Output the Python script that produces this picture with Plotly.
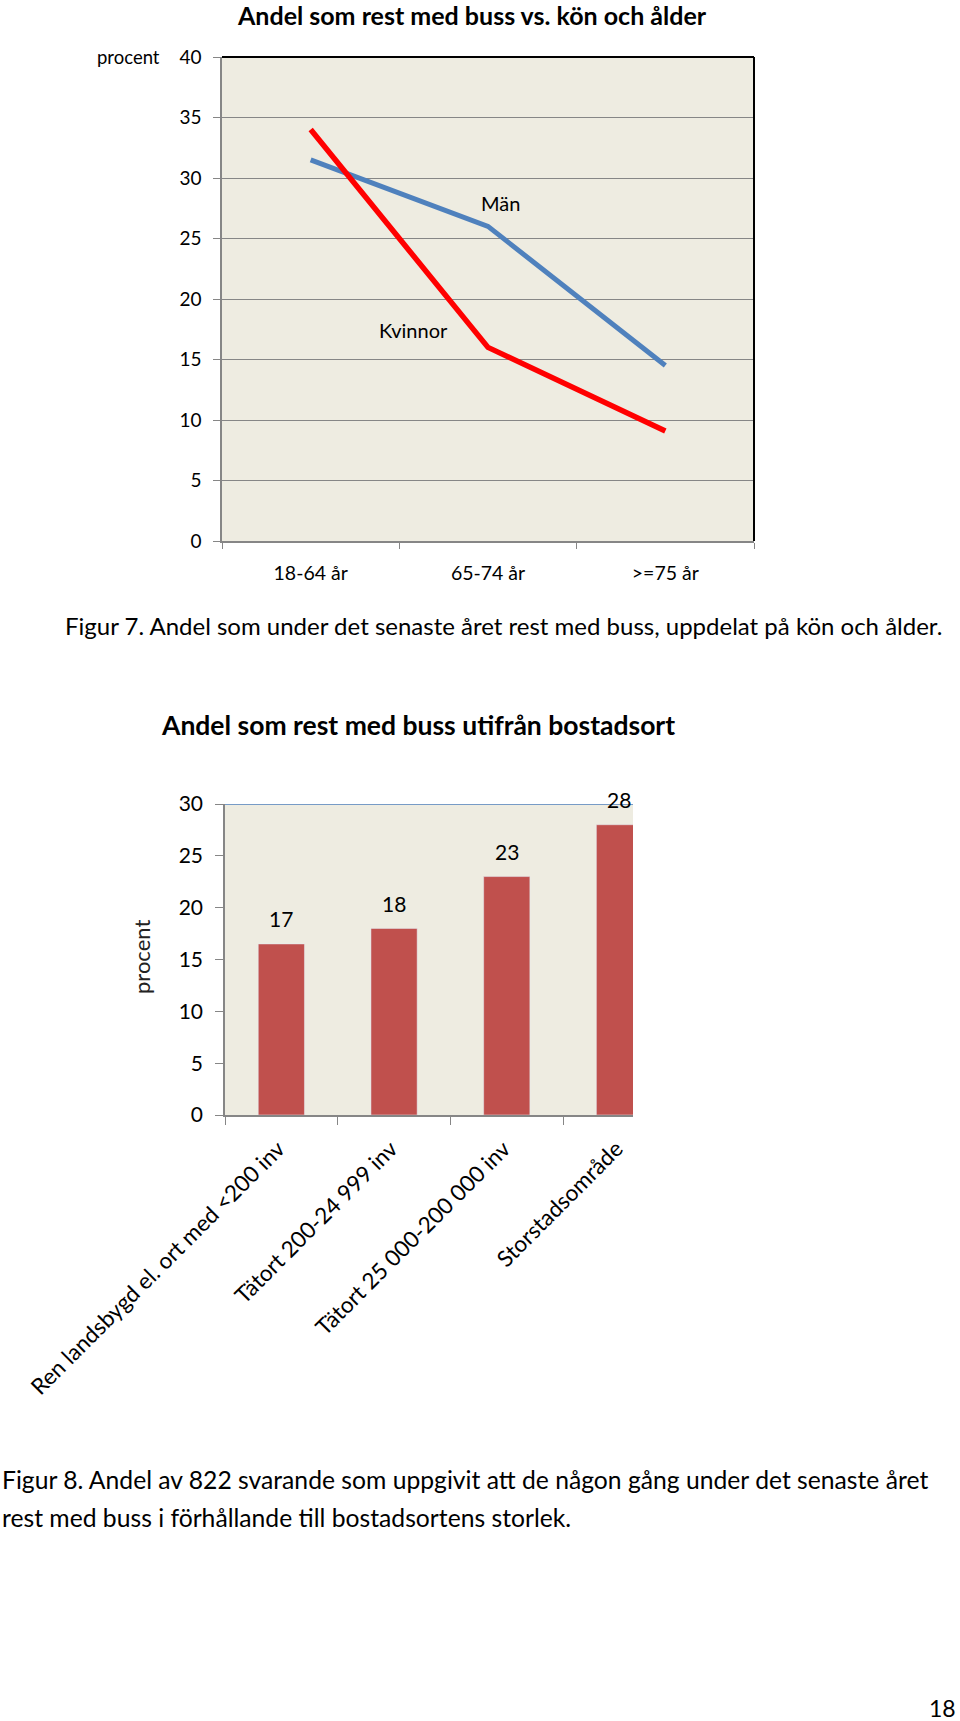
import plotly.graph_objects as go

W, H = 960, 1721

# ---- data: chart 1 (line chart) ----
age_groups = ["18-64 år", "65-74 år", ">=75 år"]
men = [31.5, 26.0, 14.5]
women = [34.0, 16.0, 9.1]
line_tickvals = [0, 5, 10, 15, 20, 25, 30, 35, 40]

# ---- data: chart 2 (bar chart) ----
areas = ["Ren landsbygd el. ort med <200 inv", "Tätort 200-24 999 inv",
         "Tätort 25 000-200 000 inv", "Storstadsområde"]
share = [16.5, 18.0, 23.0, 28.0]
share_labels = ["17", "18", "23", "28"]
bar_tickvals = [0, 5, 10, 15, 20, 25, 30]

FONT = "Lato"
GRAY = "#868686"


def py(px):
    return 1 - px / H


def pxx(px):
    return px / W


fig = go.Figure()
fig.add_trace(go.Scatter(x=age_groups, y=men, mode="lines", name="Män",
                         line=dict(color="#4F81BD", width=5),
                         xaxis="x", yaxis="y", showlegend=False))
fig.add_trace(go.Scatter(x=age_groups, y=women, mode="lines", name="Kvinnor",
                         line=dict(color="#FF0000", width=5.5),
                         xaxis="x", yaxis="y", showlegend=False))
fig.add_trace(go.Bar(x=areas, y=share, marker_color="#C0504D", width=0.41,
                     xaxis="x2", yaxis="y2", showlegend=False))

annotations = []
# data labels for bars
for a, v, t in zip(areas, share, share_labels):
    annotations.append(dict(x=a, y=v, xref="x2", yref="y2", text=t, showarrow=False,
                            yshift=25, font=dict(family=FONT, size=21, color="#000")))

# series labels on line chart
annotations.append(dict(x=1.07, y=27.9, xref="x", yref="y", text="Män", showarrow=False,
                        font=dict(family=FONT, size=20, color="#000")))
annotations.append(dict(x=0.58, y=17.4, xref="x", yref="y", text="Kvinnor", showarrow=False,
                        font=dict(family=FONT, size=20, color="#000")))

# texts
annotations += [
    dict(x=pxx(472), y=py(15), xref="paper", yref="paper", text="<b>Andel som rest med buss vs. kön och ålder</b>",
         showarrow=False, xanchor="center", yanchor="middle", font=dict(family=FONT, size=25, color="#000")),
    dict(x=pxx(162), y=py(57), xref="paper", yref="paper", text="procent",
         showarrow=False, xanchor="right", yanchor="middle", font=dict(family=FONT, size=18.5, color="#000")),
    dict(x=pxx(944), y=py(625), xref="paper", yref="paper",
         text="Figur 7. Andel som under det senaste året rest med buss, uppdelat på kön och ålder.",
         showarrow=False, xanchor="right", yanchor="middle", font=dict(family=FONT, size=24, color="#000")),
    dict(x=pxx(418), y=py(725), xref="paper", yref="paper", text="<b>Andel som rest med buss utifrån bostadsort</b>",
         showarrow=False, xanchor="center", yanchor="middle", font=dict(family=FONT, size=26.5, color="#000")),
    dict(x=pxx(142), y=py(957), xref="paper", yref="paper", text="procent", textangle=-90,
         showarrow=False, xanchor="center", yanchor="middle", font=dict(family=FONT, size=22, color="#222")),
    dict(x=0, y=py(1479), xref="paper", yref="paper",
         text="Figur 8. Andel av 822 svarande som uppgivit att de någon gång under det senaste året",
         showarrow=False, xanchor="left", yanchor="middle", font=dict(family=FONT, size=24.7, color="#000")),
    dict(x=0, y=py(1517), xref="paper", yref="paper",
         text="rest med buss i förhållande till bostadsortens storlek.",
         showarrow=False, xanchor="left", yanchor="middle", font=dict(family=FONT, size=24.7, color="#000")),
    dict(x=pxx(958), y=py(1708), xref="paper", yref="paper", text="18",
         showarrow=False, xanchor="right", yanchor="middle", font=dict(family=FONT, size=23, color="#000")),
]

shapes = [
    # black top and right border of chart 1
    dict(type="line", xref="x domain", yref="y domain", x0=0, x1=1, y0=1, y1=1,
         line=dict(color="#000", width=2), layer="above"),
    dict(type="line", xref="x domain", yref="y domain", x0=1, x1=1, y0=0, y1=1,
         line=dict(color="#000", width=2), layer="above"),
    # blue top line on chart 2
    dict(type="line", xref="x2 domain", yref="y2", x0=0, x1=1, y0=30, y1=30,
         line=dict(color="#4F81BD", width=1.5), layer="above"),
]

axis_common = dict(showline=True, linecolor=GRAY, linewidth=1.5, ticks="outside",
                   tickcolor=GRAY, tickwidth=1, zeroline=False, automargin=False)

fig.update_layout(
    width=W, height=H, margin=dict(l=0, r=0, t=0, b=0, pad=0, autoexpand=False),
    paper_bgcolor="white", plot_bgcolor="#EEECE1",
    font=dict(family=FONT, color="#000"),
    xaxis=dict(domain=[pxx(222), pxx(754)], anchor="y", type="category", range=[-0.5, 2.5],
               tickson="boundaries", ticklen=6, showgrid=False,
               tickfont=dict(family=FONT, size=19.5), ticklabelstandoff=14, **axis_common),
    yaxis=dict(domain=[py(541), py(57)], anchor="x", range=[0, 40], tickvals=line_tickvals,
               showgrid=True, gridcolor=GRAY, gridwidth=1.2, ticklen=7,
               tickfont=dict(family=FONT, size=19), ticklabelstandoff=8, **axis_common),
    xaxis2=dict(domain=[pxx(225), pxx(633)], anchor="y2", type="category", range=[-0.5, 3.12],
                tickson="boundaries", ticklen=8, showgrid=False, tickangle=-45,
                tickfont=dict(family=FONT, size=22.5), ticklabelstandoff=10, ticklabelshift=-3,
                **axis_common),
    yaxis2=dict(domain=[py(1115), py(804)], anchor="x2", range=[0, 30], tickvals=bar_tickvals,
                showgrid=False, ticklen=8,
                tickfont=dict(family=FONT, size=21), ticklabelstandoff=8, **axis_common),
    annotations=annotations,
    shapes=shapes,
)

fig.write_html("out.html")
